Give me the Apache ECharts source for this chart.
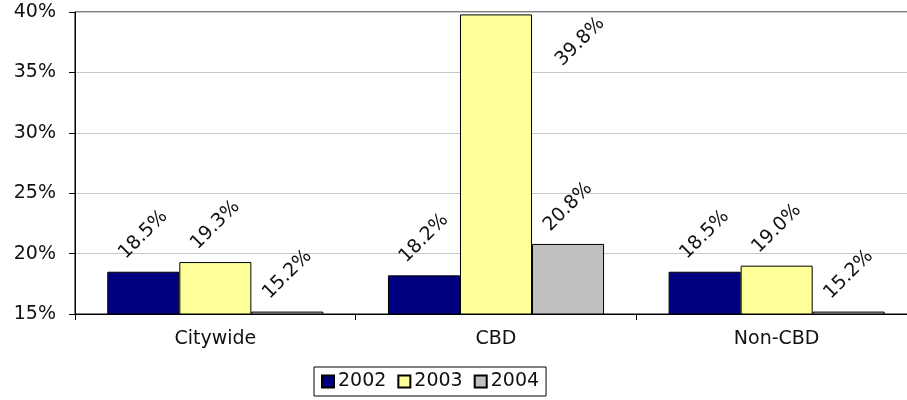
<!DOCTYPE html>
<html>
<head>
<meta charset="utf-8">
<script src="https://cdn.jsdelivr.net/npm/echarts@6/dist/echarts.min.js"></script>
<style>
  html, body { margin: 0; padding: 0; background: #fff; overflow: hidden; }
  /* the plot runs a little past the right edge of the window */
  #chart { width: 917px; height: 400px; }
</style>
</head>
<body>
<div id="chart"></div>
<script>
// Vacancy-style rates by area and year
const categories = ['Citywide', 'CBD', 'Non-CBD'];
const years = ['2002', '2003', '2004'];
const values2002 = [18.5, 18.2, 18.5];
const values2003 = [19.3, 39.8, 19.0];
const values2004 = [15.2, 20.8, 15.2];
const yTicks = { min: 15, max: 40, interval: 5 };

const colors = ['#000080', '#FFFF99', '#C0C0C0'];
const FONT = 'DejaVu Sans';

const chart = echarts.init(document.getElementById('chart'), null, { renderer: 'canvas' });

const baseLabel = {
  show: true,
  position: 'top',
  distance: 37,
  rotate: 45,
  align: 'center',
  verticalAlign: 'middle',
  fontFamily: FONT,
  fontSize: 19,
  color: '#111',
  formatter: p => p.value.toFixed(1) + '%'
};

function makeSeries(name, vals, color) {
  return {
    name: name,
    type: 'bar',
    barGap: '0%',
    barCategoryGap: '23%',
    itemStyle: { color: color, borderColor: '#000', borderWidth: 1 },
    label: baseLabel,
    data: vals.map(v => ({ value: v }))
  };
}

const series = [
  makeSeries(years[0], values2002, colors[0]),
  makeSeries(years[1], values2003, colors[1]),
  makeSeries(years[2], values2004, colors[2])
];
// the tall CBD bar carries its label down and to the right
// (offset is expressed in the label's rotated frame)
series[1].data[1].label = { offset: [14, 105] };

chart.setOption({
  animation: false,
  backgroundColor: '#fff',
  grid: {
    left: 75, top: 12, bottom: 86, right: 0,
    show: true, borderColor: '#000', borderWidth: 1, backgroundColor: '#fff'
  },
  legend: {
    left: 314, top: 367,
    data: years,
    icon: 'rect',
    itemWidth: 12, itemHeight: 12,
    itemGap: 11,
    padding: [5, 7, 5, 7],
    borderColor: '#000', borderWidth: 1,
    textStyle: { fontFamily: FONT, fontSize: 19, color: '#111', padding: [0, 0, 0, -1] }
  },
  xAxis: {
    type: 'category',
    data: categories,
    axisLine: { lineStyle: { color: '#000', width: 1 } },
    axisTick: { show: true, length: 6, lineStyle: { color: '#000' } },
    axisLabel: { fontFamily: FONT, fontSize: 19, color: '#111', margin: 16 }
  },
  yAxis: {
    type: 'value',
    min: yTicks.min, max: yTicks.max, interval: yTicks.interval,
    axisLine: { show: true, lineStyle: { color: '#000', width: 1 } },
    axisTick: { show: true, length: 6, lineStyle: { color: '#000' } },
    axisLabel: { fontFamily: FONT, fontSize: 19, color: '#111', margin: 19, formatter: '{value}%' },
    splitLine: { show: true, lineStyle: { color: '#C8C8C8', width: 1 } }
  },
  series: series
});
</script>
</body>
</html>
